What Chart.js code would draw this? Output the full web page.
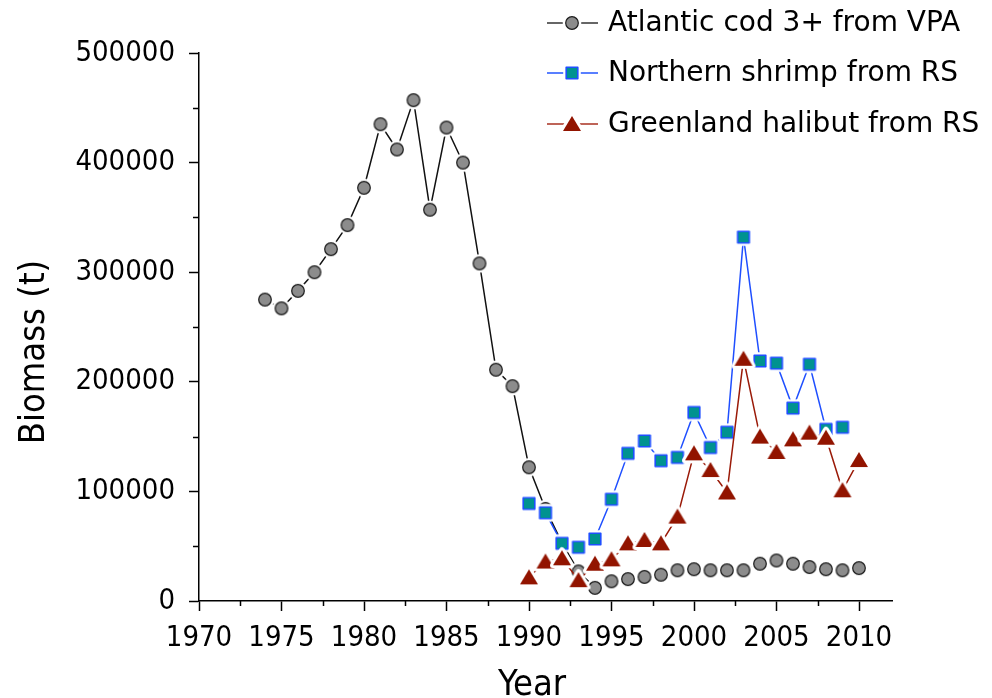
<!DOCTYPE html>
<html><head><meta charset="utf-8">
<script src="https://cdn.jsdelivr.net/npm/chart.js@4"></script>
<style>html,body{margin:0;padding:0;background:#fff}#wrap{width:992px;height:698px;position:relative}</style>
</head><body><div id="wrap"><canvas id="c" width="992" height="698"></canvas></div>
<script>
// ---- data ----
const codYears = [1974,1975,1976,1977,1978,1979,1980,1981,1982,1983,1984,1985,1986,1987,1988,1989,1990,1991,1992,1993,1994,1995,1996,1997,1998,1999,2000,2001,2002,2003,2004,2005,2006,2007,2008,2009,2010];
const codBiomass = [275000,267000,283000,300000,321000,343000,377000,435000,412000,457000,357000,432000,400000,308000,211000,196000,122000,84000,53000,27000,12000,18000,20000,22000,24000,28000,29000,28000,28000,28000,34000,37000,34000,31000,29000,28000,30000];
const shrimpYears = [1990,1991,1992,1993,1994,1995,1996,1997,1998,1999,2000,2001,2002,2003,2004,2005,2006,2007,2008,2009];
const shrimpBiomass = [89000,80500,52600,49000,56600,92800,134700,146000,128000,131000,172000,140000,154000,332000,219000,217000,176000,216000,156600,158500];
const halibutYears = [1990,1991,1992,1993,1994,1995,1996,1997,1998,1999,2000,2001,2002,2003,2004,2005,2006,2007,2008,2009,2010];
const halibutBiomass = [21600,36000,39000,19000,34000,38000,52600,55700,52600,77000,134700,119500,99000,221000,150000,136000,147500,153600,149000,101000,128600];
const seriesNames = ["Atlantic cod 3+ from VPA","Northern shrimp from RS","Greenland halibut from RS"];
const xTicks = [1970,1975,1980,1985,1990,1995,2000,2005,2010];
const yTicks = [0,100000,200000,300000,400000,500000];
const xTitle = "Year";
const yTitle = "Biomass (t)";

const toPts = (xs, ys) => xs.map((x, i) => ({x: x, y: ys[i]}));

// ---- marker images (with white halo so lines stop short of markers) ----
function marker(kind){
  const s = 28, c = document.createElement('canvas');
  c.width = s; c.height = s;
  const g = c.getContext('2d');
  g.translate(s/2, s/2);
  g.lineJoin = 'round';
  g.beginPath();
  if (kind === 'circle') g.arc(0, 0, 6.3, 0, Math.PI*2);
  else if (kind === 'square') g.rect(-5.8, -5.8, 11.6, 11.6);
  else { g.moveTo(0, -8); g.lineTo(9, 7); g.lineTo(-9, 7); g.closePath(); }
  g.strokeStyle = '#ffffff'; g.lineWidth = 6; g.stroke();
  if (kind === 'circle') { g.fillStyle = '#8c8c8c'; g.fill(); g.strokeStyle = '#1a1a1a'; g.lineWidth = 1.2; g.stroke(); }
  else if (kind === 'square') { g.fillStyle = '#009290'; g.fill(); g.strokeStyle = '#1f4fff'; g.lineWidth = 1.6; g.stroke(); }
  else { g.fillStyle = '#921400'; g.fill(); }
  return c;
}
const mCod = marker('circle'), mShrimp = marker('square'), mHal = marker('triangle');

const condensed = '"DejaVu Sans Condensed", "DejaVu Sans", sans-serif';
const axisFont = {family: condensed, size: 29};

const legendPlugin = {
  id: 'customLegend',
  afterDraw(chart){
    const g = chart.ctx;
    const rows = [
      {y: 23, color: '#333333', img: mCod, text: seriesNames[0]},
      {y: 73, color: '#2255ff', img: mShrimp, text: seriesNames[1]},
      {y: 124, color: '#a83020', img: mHal, text: seriesNames[2]}
    ];
    g.save();
    rows.forEach(r => {
      g.strokeStyle = r.color; g.lineWidth = 1.5;
      g.beginPath(); g.moveTo(547, r.y); g.lineTo(598, r.y); g.stroke();
      g.drawImage(r.img, 572 - r.img.width/2, r.y - r.img.height/2);
      g.fillStyle = '#000'; g.font = '28px "DejaVu Sans", sans-serif';
      g.textBaseline = 'middle'; g.textAlign = 'left';
      g.fillText(r.text, 608, r.y + 1);
    });
    const xs = chart.scales.x, ys = chart.scales.y;
    // minor ticks from the library scales
    g.strokeStyle = '#000'; g.lineWidth = 1.5;
    for (let v = 1972.5; v < 2012; v += 5) {
      const px = Math.round(xs.getPixelForValue(v)) + 0.5;
      g.beginPath(); g.moveTo(px, xs.top); g.lineTo(px, xs.top + 5); g.stroke();
    }
    for (let v = 50000; v < 500000; v += 100000) {
      const py = Math.round(ys.getPixelForValue(v)) + 0.5;
      g.beginPath(); g.moveTo(ys.right, py); g.lineTo(ys.right - 6, py); g.stroke();
    }
    // axis titles
    g.fillStyle = '#000';
    g.font = '36px ' + condensed;
    g.textAlign = 'center'; g.textBaseline = 'alphabetic';
    g.fillText(xTitle, 532, 695);
    g.save();
    g.translate(44, 352); g.rotate(-Math.PI/2);
    g.fillText(yTitle, 0, 0);
    g.restore();
    g.restore();
  }
};

new Chart(document.getElementById('c'), {
  type: 'line',
  data: {
    datasets: [
      {label: seriesNames[0], data: toPts(codYears, codBiomass), borderColor: '#111111', borderWidth: 1.5,
       pointStyle: mCod, pointRadius: 6, order: 3, tension: 0},
      {label: seriesNames[1], data: toPts(shrimpYears, shrimpBiomass), borderColor: '#1f4fff', borderWidth: 1.5,
       pointStyle: mShrimp, pointRadius: 6, order: 2, tension: 0},
      {label: seriesNames[2], data: toPts(halibutYears, halibutBiomass), borderColor: '#9a1a08', borderWidth: 1.5,
       pointStyle: mHal, pointRadius: 6, order: 1, tension: 0}
    ]
  },
  options: {
    responsive: false, animation: false, devicePixelRatio: 1,
    layout: {padding: {left: 0, right: 100, top: 53, bottom: 0}},
    plugins: {legend: {display: false}, tooltip: {enabled: false}},
    elements: {point: {hoverRadius: 6}},
    scales: {
      x: {
        type: 'linear', min: 1970, max: 2012,
        afterFit: s => { s.height = 97; },
        afterBuildTicks: s => { s.ticks = xTicks.map(v => ({value: v})); },
        border: {color: '#000', width: 1.5},
        grid: {drawOnChartArea: false, drawTicks: true, tickLength: 10, tickColor: '#000', tickWidth: 1.5},
        ticks: {font: axisFont, color: '#000', padding: 10, maxRotation: 0, autoSkip: false,
                callback: v => String(v)},
        title: {display: false}
      },
      y: {
        type: 'linear', min: 0, max: 500000,
        afterFit: s => { s.width = 199; },
        afterBuildTicks: s => { s.ticks = yTicks.map(v => ({value: v})); },
        border: {color: '#000', width: 1.5},
        grid: {drawOnChartArea: false, drawTicks: true, tickLength: 10, tickColor: '#000', tickWidth: 1.5},
        ticks: {font: axisFont, color: '#000', padding: 14, callback: v => String(v)},
        title: {display: false}
      }
    }
  },
  plugins: [legendPlugin]
});
</script></body></html>
